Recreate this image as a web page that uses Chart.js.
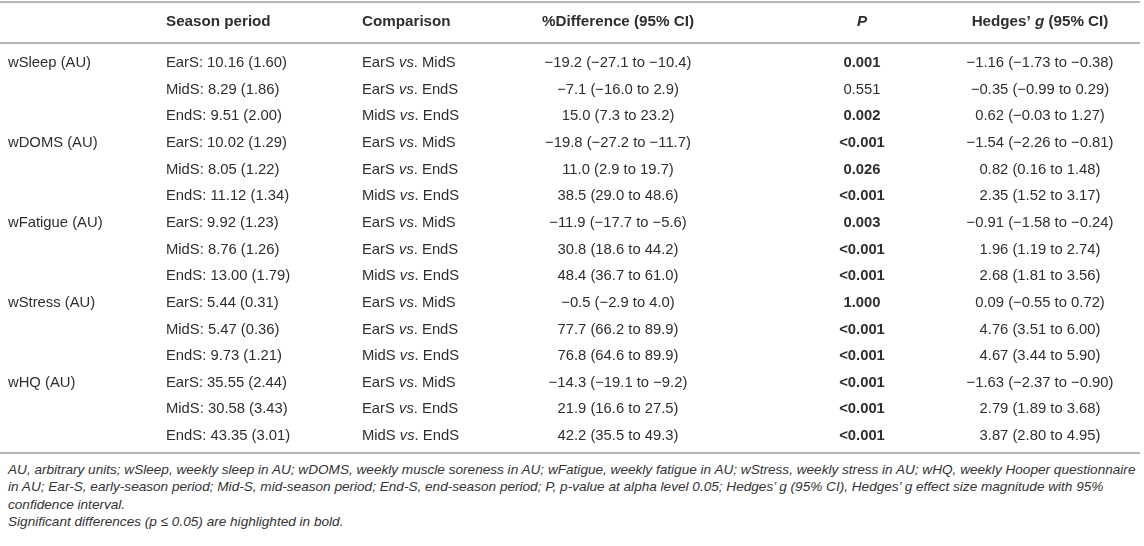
<!DOCTYPE html>
<html lang="en">
<head>
  <meta charset="UTF-8" />
  <title>Weekly wellness by season period</title>
  <script src="https://cdn.jsdelivr.net/npm/chart.js"></script>
  <style>
    html, body {
      margin: 0;
      padding: 0;
      background: #fff;
    }
    body {
      width: 1144px;
      height: 546px;
      overflow: hidden;
      font-family: "Liberation Sans", Arial, sans-serif;
      color: #333;
    }
    #wrap {
      position: relative;
      width: 1144px;
      height: 456px;
    }
    .notes {
      position: absolute;
      left: 8px;
      top: 461px;
      font-size: 13.6px;
      font-style: italic;
      line-height: 17.3px;
      white-space: nowrap;
    }
  </style>
</head>
<body>
  <div id="wrap"><canvas id="chart"></canvas></div>
  <div class="notes">
    AU, arbitrary units; wSleep, weekly sleep in AU; wDOMS, weekly muscle soreness in AU; wFatigue, weekly fatigue in AU; wStress, weekly stress in AU; wHQ, weekly Hooper questionnaire<br>
    in AU; Ear-S, early-season period; Mid-S, mid-season period; End-S, end-season period; P, p-value at alpha level 0.05; Hedges’ g (95% CI), Hedges’ g effect size magnitude with 95%<br>
    confidence interval.<br>
    Significant differences (p ≤ 0.05) are highlighted in bold.
  </div>

  <script>
    // table values
    const variables = ["wSleep (AU)", "wDOMS (AU)", "wFatigue (AU)", "wStress (AU)", "wHQ (AU)"];
    const periods = ["EarS", "MidS", "EndS"];
    const means = [
      [10.16, 8.29, 9.51],
      [10.02, 8.05, 11.12],
      [9.92, 8.76, 13.00],
      [5.44, 5.47, 9.73],
      [35.55, 30.58, 43.35]
    ];
    const sds = [
      [1.60, 1.86, 2.00],
      [1.29, 1.22, 1.34],
      [1.23, 1.26, 1.79],
      [0.31, 0.36, 1.21],
      [2.44, 3.43, 3.01]
    ];
    const compFrom = ["EarS", "EarS", "MidS"];
    const compTo = ["MidS", "EndS", "EndS"];
    const pctDiff = [
      [-19.2, -7.1, 15.0],
      [-19.8, 11.0, 38.5],
      [-11.9, 30.8, 48.4],
      [-0.5, 77.7, 76.8],
      [-14.3, 21.9, 42.2]
    ];
    const pctLow = [
      [-27.1, -16.0, 7.3],
      [-27.2, 2.9, 29.0],
      [-17.7, 18.6, 36.7],
      [-2.9, 66.2, 64.6],
      [-19.1, 16.6, 35.5]
    ];
    const pctHigh = [
      [-10.4, 2.9, 23.2],
      [-11.7, 19.7, 48.6],
      [-5.6, 44.2, 61.0],
      [4.0, 89.9, 89.9],
      [-9.2, 27.5, 49.3]
    ];
    const pValues = ["0.001", "0.551", "0.002", "<0.001", "0.026", "<0.001", "0.003", "<0.001", "<0.001",
                     "1.000", "<0.001", "<0.001", "<0.001", "<0.001", "<0.001"];
    const pBold = [true, false, true, true, true, true, true, true, true, true, true, true, true, true, true];
    const hedgesG = [
      [-1.16, -0.35, 0.62],
      [-1.54, 0.82, 2.35],
      [-0.91, 1.96, 2.68],
      [0.09, 4.76, 4.67],
      [-1.63, 2.79, 3.87]
    ];
    const gLow = [
      [-1.73, -0.99, -0.03],
      [-2.26, 0.16, 1.52],
      [-1.58, 1.19, 1.81],
      [-0.55, 3.51, 3.44],
      [-2.37, 1.89, 2.80]
    ];
    const gHigh = [
      [-0.38, 0.29, 1.27],
      [-0.81, 1.48, 3.17],
      [-0.24, 2.74, 3.56],
      [0.72, 6.00, 5.90],
      [-0.90, 3.68, 4.95]
    ];

    // layout: column anchors on the x scale (0..1144), rows on the y scale
    const colAnchor = [8, 166, 362, 618, 862, 1040];
    const colAlign = ["left", "left", "left", "center", "center", "center"];
    const HEADER_ROW = -1.54;
    const ruleRows = [-2.29, -0.75, 14.64];
    const FONT = '"Liberation Sans", Arial, sans-serif';
    const FONT_SIZE = 14.8;
    const HEAD_SIZE = 15.2;
    const TEXT = "#2e2e2e";

    const rowCount = variables.length * periods.length;
    const rows = Array.from({ length: rowCount }, (_, i) => i);

    function num(v, d) {
      const s = Math.abs(v).toFixed(d);
      return v < 0 ? "\u2212" + s : s;
    }

    const headers = [
      [],
      [{ t: "Season period" }],
      [{ t: "Comparison" }],
      [{ t: "%Difference (95% CI)" }],
      [{ t: "P", i: true }],
      [{ t: "Hedges\u2019 " }, { t: "g", i: true }, { t: " (95% CI)" }]
    ];

    function cellRuns(c, r) {
      const v = Math.floor(r / 3), k = r % 3;
      switch (c) {
        case 0: return k === 0 ? [{ t: variables[v] }] : [];
        case 1: return [{ t: periods[k] + ": " + means[v][k].toFixed(2) + " (" + sds[v][k].toFixed(2) + ")" }];
        case 2: return [{ t: compFrom[k] + " " }, { t: "vs", i: true }, { t: ". " + compTo[k] }];
        case 3: return [{ t: num(pctDiff[v][k], 1) + " (" + num(pctLow[v][k], 1) + " to " + num(pctHigh[v][k], 1) + ")" }];
        case 4: return [{ t: pValues[r], b: pBold[r] }];
        case 5: return [{ t: num(hedgesG[v][k], 2) + " (" + num(gLow[v][k], 2) + " to " + num(gHigh[v][k], 2) + ")" }];
      }
      return [];
    }

    function setFont(ctx, run, head) {
      const size = head ? HEAD_SIZE : FONT_SIZE;
      ctx.font = (run.i ? "italic " : "") + (head || run.b ? "bold " : "") + size + "px " + FONT;
    }

    function drawRuns(ctx, runs, x, y, align, head) {
      let total = 0;
      runs.forEach(run => { setFont(ctx, run, head); total += ctx.measureText(run.t).width; });
      let cx = align === "center" ? x - total / 2 : x;
      ctx.textAlign = "left";
      ctx.textBaseline = "middle";
      ctx.fillStyle = TEXT;
      runs.forEach(run => {
        setFont(ctx, run, head);
        ctx.fillText(run.t, cx, y);
        cx += ctx.measureText(run.t).width;
      });
    }

    const tablePlugin = {
      id: "tableText",
      afterDatasetsDraw(chart) {
        const ctx = chart.ctx;
        const xs = chart.scales.x, ys = chart.scales.y;
        ctx.save();
        ctx.strokeStyle = "#b5b5b5";
        ctx.lineWidth = 2;
        ruleRows.forEach(v => {
          const py = Math.round(ys.getPixelForValue(v));
          ctx.beginPath();
          ctx.moveTo(xs.left, py);
          ctx.lineTo(xs.right - 4, py);
          ctx.stroke();
        });
        headers.forEach((runs, c) => {
          drawRuns(ctx, runs, xs.getPixelForValue(colAnchor[c]), ys.getPixelForValue(HEADER_ROW), colAlign[c], true);
        });
        chart.data.datasets.forEach((ds, c) => {
          chart.getDatasetMeta(c).data.forEach((pt, r) => {
            drawRuns(ctx, cellRuns(c, r), pt.x, pt.y, colAlign[c], false);
          });
        });
        ctx.restore();
      }
    };

    new Chart(document.getElementById("chart"), {
      type: "scatter",
      data: {
        datasets: colAnchor.map((ax, c) => ({
          label: "col" + c,
          data: rows.map(r => ({ x: ax, y: r })),
          pointRadius: 0,
          pointHoverRadius: 0
        }))
      },
      options: {
        responsive: true,
        maintainAspectRatio: false,
        animation: false,
        events: [],
        layout: { padding: 0 },
        plugins: { legend: { display: false }, tooltip: { enabled: false } },
        scales: {
          x: { type: "linear", min: 0, max: 1144, display: false },
          y: { type: "linear", reverse: true, min: -2.365, max: 14.75, display: false }
        }
      },
      plugins: [tablePlugin]
    });
  </script>
</body>
</html>
